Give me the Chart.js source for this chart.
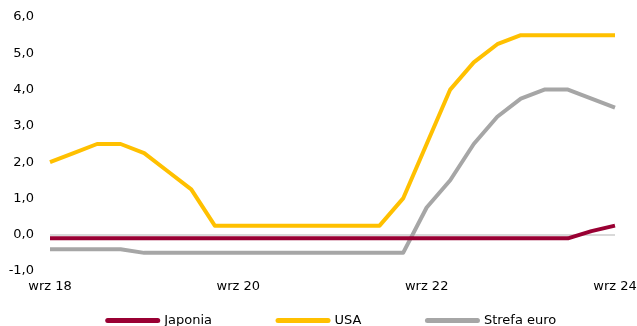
<!DOCTYPE html>
<html>
<head>
<meta charset="utf-8">
<script src="https://cdn.jsdelivr.net/npm/chart.js@4/dist/chart.umd.min.js"></script>
<style>
  html, body { margin: 0; padding: 0; background: #fff; }
  #wrap { position: relative; width: 637px; height: 326px; }
</style>
</head>
<body>
<div id="wrap"><canvas id="c" width="637" height="326"></canvas></div>
<script>
// Quarterly observations, Sept 2018 – Sept 2024
const categories = [
  "wrz 18", "gru 18", "mar 19", "cze 19", "wrz 19", "gru 19", "mar 20", "cze 20",
  "wrz 20", "gru 20", "mar 21", "cze 21", "wrz 21", "gru 21", "mar 22", "cze 22",
  "wrz 22", "gru 22", "mar 23", "cze 23", "wrz 23", "gru 23", "mar 24", "cze 24",
  "wrz 24"
];

// Policy rates (%)
const japonia = [
  -0.1, -0.1, -0.1, -0.1, -0.1, -0.1, -0.1, -0.1,
  -0.1, -0.1, -0.1, -0.1, -0.1, -0.1, -0.1, -0.1,
  -0.1, -0.1, -0.1, -0.1, -0.1, -0.1, -0.1, 0.1,
  0.25
];
const usa = [
  2.0, 2.25, 2.5, 2.5, 2.25, 1.75, 1.25, 0.25,
  0.25, 0.25, 0.25, 0.25, 0.25, 0.25, 0.25, 1.0,
  2.5, 4.0, 4.75, 5.25, 5.5, 5.5, 5.5, 5.5,
  5.5
];
const strefaEuro = [
  -0.4, -0.4, -0.4, -0.4, -0.5, -0.5, -0.5, -0.5,
  -0.5, -0.5, -0.5, -0.5, -0.5, -0.5, -0.5, -0.5,
  0.75, 1.5, 2.5, 3.25, 3.75, 4.0, 4.0, 3.75,
  3.5
];

// Axis range and labelled x positions
const yMin = -1, yMax = 6, yStep = 1;
const xTickEvery = 8;

const FONT = { family: "'DejaVu Sans', Verdana, sans-serif", size: 13 };
const LEGEND_GAP = 66;

const line = (label, data, color) => ({
  label, data,
  borderColor: color,
  backgroundColor: color,
  borderWidth: 4,
  pointRadius: 0,
  pointHoverRadius: 0,
  tension: 0,
  borderJoinStyle: 'round',
  borderCapStyle: 'butt',
  fill: false
});

// Keeps the legend compact in the layout and places it on the bottom row
const legendPlacement = {
  id: 'legendPlacement',
  beforeLayout(chart) {
    const lg = chart.legend;
    if (lg && !lg.__compact) {
      const fit = lg.fit.bind(lg);
      lg.fit = function () { fit(); this.height = 23; };
      lg.__compact = true;
    }
  },
  afterLayout(chart) {
    const lg = chart.legend;
    if (!lg) return;
    const dx = 24.5;
    lg.left += dx; lg.right += dx;
    const textMid = 320.5;
    lg.top = textMid - LEGEND_GAP - FONT.size / 2;
    lg.bottom = chart.height + 10;
  }
};

new Chart(document.getElementById('c'), {
  type: 'line',
  data: {
    labels: categories,
    datasets: [
      line('Japonia', japonia, '#990033'),
      line('USA', usa, '#FFC000'),
      line('Strefa euro', strefaEuro, '#A6A6A6')
    ]
  },
  plugins: [legendPlacement],
  options: {
    responsive: false,
    animation: false,
    events: [],
    layout: { padding: { left: 0, right: 22, top: 17, bottom: 0 } },
    plugins: {
      tooltip: { enabled: false },
      legend: {
        position: 'bottom',
        align: 'center',
        labels: {
          font: FONT,
          color: '#000',
          usePointStyle: true,
          pointStyleWidth: 50,
          boxHeight: 5,
          padding: LEGEND_GAP,
          generateLabels(chart) {
            return chart.data.datasets.map((ds, i) => ({
              text: ds.label,
              fillStyle: ds.borderColor,
              strokeStyle: ds.borderColor,
              lineWidth: 5,
              lineCap: 'round',
              pointStyle: 'line',
              hidden: false,
              datasetIndex: i,
              fontColor: '#000'
            }));
          }
        }
      }
    },
    scales: {
      x: {
        type: 'category',
        offset: false,
        grid: { display: false, drawTicks: false },
        border: { display: false },
        ticks: {
          font: FONT,
          color: '#000',
          autoSkip: false,
          maxRotation: 0,
          minRotation: 0,
          padding: 8,
          callback(v, i) { return i % xTickEvery === 0 ? categories[i] : ''; }
        },
        afterFit(s) { s.height = 32; s.paddingLeft = 0; s.paddingRight = 0; }
      },
      y: {
        min: yMin,
        max: yMax,
        border: { display: false },
        grid: {
          drawTicks: false,
          lineWidth: 2,
          color: ctx => (ctx.tick && ctx.tick.value === 0 ? '#D9D9D9' : 'rgba(0,0,0,0)')
        },
        ticks: {
          font: FONT,
          color: '#000',
          stepSize: yStep,
          padding: 16,
          callback: v => v.toFixed(1).replace('.', ',')
        },
        afterFit(s) { s.width = 50; s.paddingTop = 0; s.paddingBottom = 0; }
      }
    }
  }
});
</script>
</body>
</html>
